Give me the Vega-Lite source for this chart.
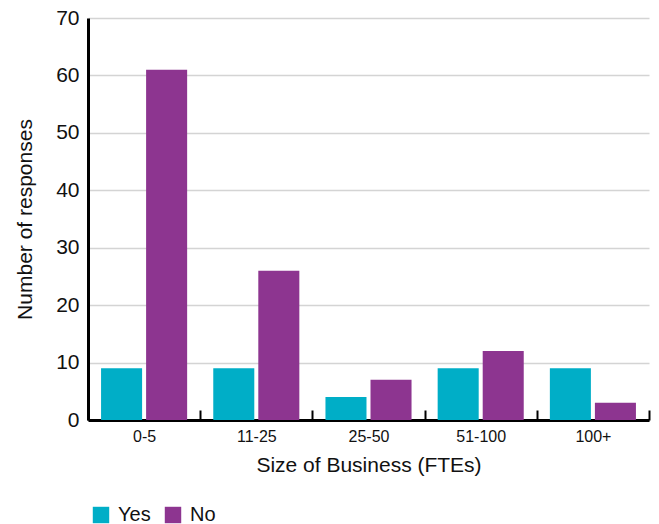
{
  "$schema": "https://vega.github.io/schema/vega-lite/v6.json",
  "autosize": {"type": "none"},
  "padding": {"left": 88, "top": 18, "right": 10, "bottom": 104},
  "width": 561,
  "height": 402,
  "background": "white",
  "data": {
    "values": [
      {"size": "0-5", "answer": "Yes", "count": 9},
      {"size": "0-5", "answer": "No", "count": 61},
      {"size": "11-25", "answer": "Yes", "count": 9},
      {"size": "11-25", "answer": "No", "count": 26},
      {"size": "25-50", "answer": "Yes", "count": 4},
      {"size": "25-50", "answer": "No", "count": 7},
      {"size": "51-100", "answer": "Yes", "count": 9},
      {"size": "51-100", "answer": "No", "count": 12},
      {"size": "100+", "answer": "Yes", "count": 9},
      {"size": "100+", "answer": "No", "count": 3}
    ]
  },
  "config": {
    "font": "Liberation Sans",
    "view": {"stroke": null}
  },
  "mark": {"type": "bar"},
  "encoding": {
    "x": {
      "field": "size",
      "type": "nominal",
      "sort": ["0-5", "11-25", "25-50", "51-100", "100+"],
      "scale": {"paddingInner": 0, "paddingOuter": 0},
      "axis": {
        "title": "Size of Business (FTEs)",
        "titleFontSize": 21,
        "titleFontWeight": "normal",
        "titleColor": "#111",
        "titlePadding": 10,
        "labelFontSize": 16,
        "labelColor": "#111",
        "labelAngle": 0,
        "labelPadding": 18,
        "tickBand": "extent",
        "tickSize": -10,
        "tickWidth": 2,
        "tickColor": "#000",
        "domainColor": "#000",
        "domainWidth": 3
      }
    },
    "xOffset": {
      "field": "answer",
      "type": "nominal",
      "sort": ["Yes", "No"],
      "scale": {"paddingInner": 0.089, "paddingOuter": 0.29}
    },
    "y": {
      "field": "count",
      "type": "quantitative",
      "scale": {"domain": [0, 70]},
      "axis": {
        "title": "Number of responses",
        "titleFontSize": 21,
        "titleFontWeight": "normal",
        "titleColor": "#111",
        "titlePadding": 20,
        "labelFontSize": 21,
        "labelColor": "#111",
        "labelPadding": 9,
        "values": [0, 10, 20, 30, 40, 50, 60, 70],
        "ticks": false,
        "grid": true,
        "gridColor": "#d4d4d4",
        "gridWidth": 1.5,
        "domainColor": "#000",
        "domainWidth": 3
      }
    },
    "color": {
      "field": "answer",
      "type": "nominal",
      "sort": ["Yes", "No"],
      "scale": {"domain": ["Yes", "No"], "range": ["#00AEC7", "#8D3590"]},
      "legend": {
        "title": null,
        "orient": "none",
        "direction": "horizontal",
        "legendX": 3,
        "legendY": 487,
        "symbolType": "square",
        "symbolSize": 270,
        "symbolStrokeWidth": 0,
        "labelFontSize": 20,
        "labelColor": "#111",
        "labelOffset": 7,
        "columnPadding": 12
      }
    }
  }
}
